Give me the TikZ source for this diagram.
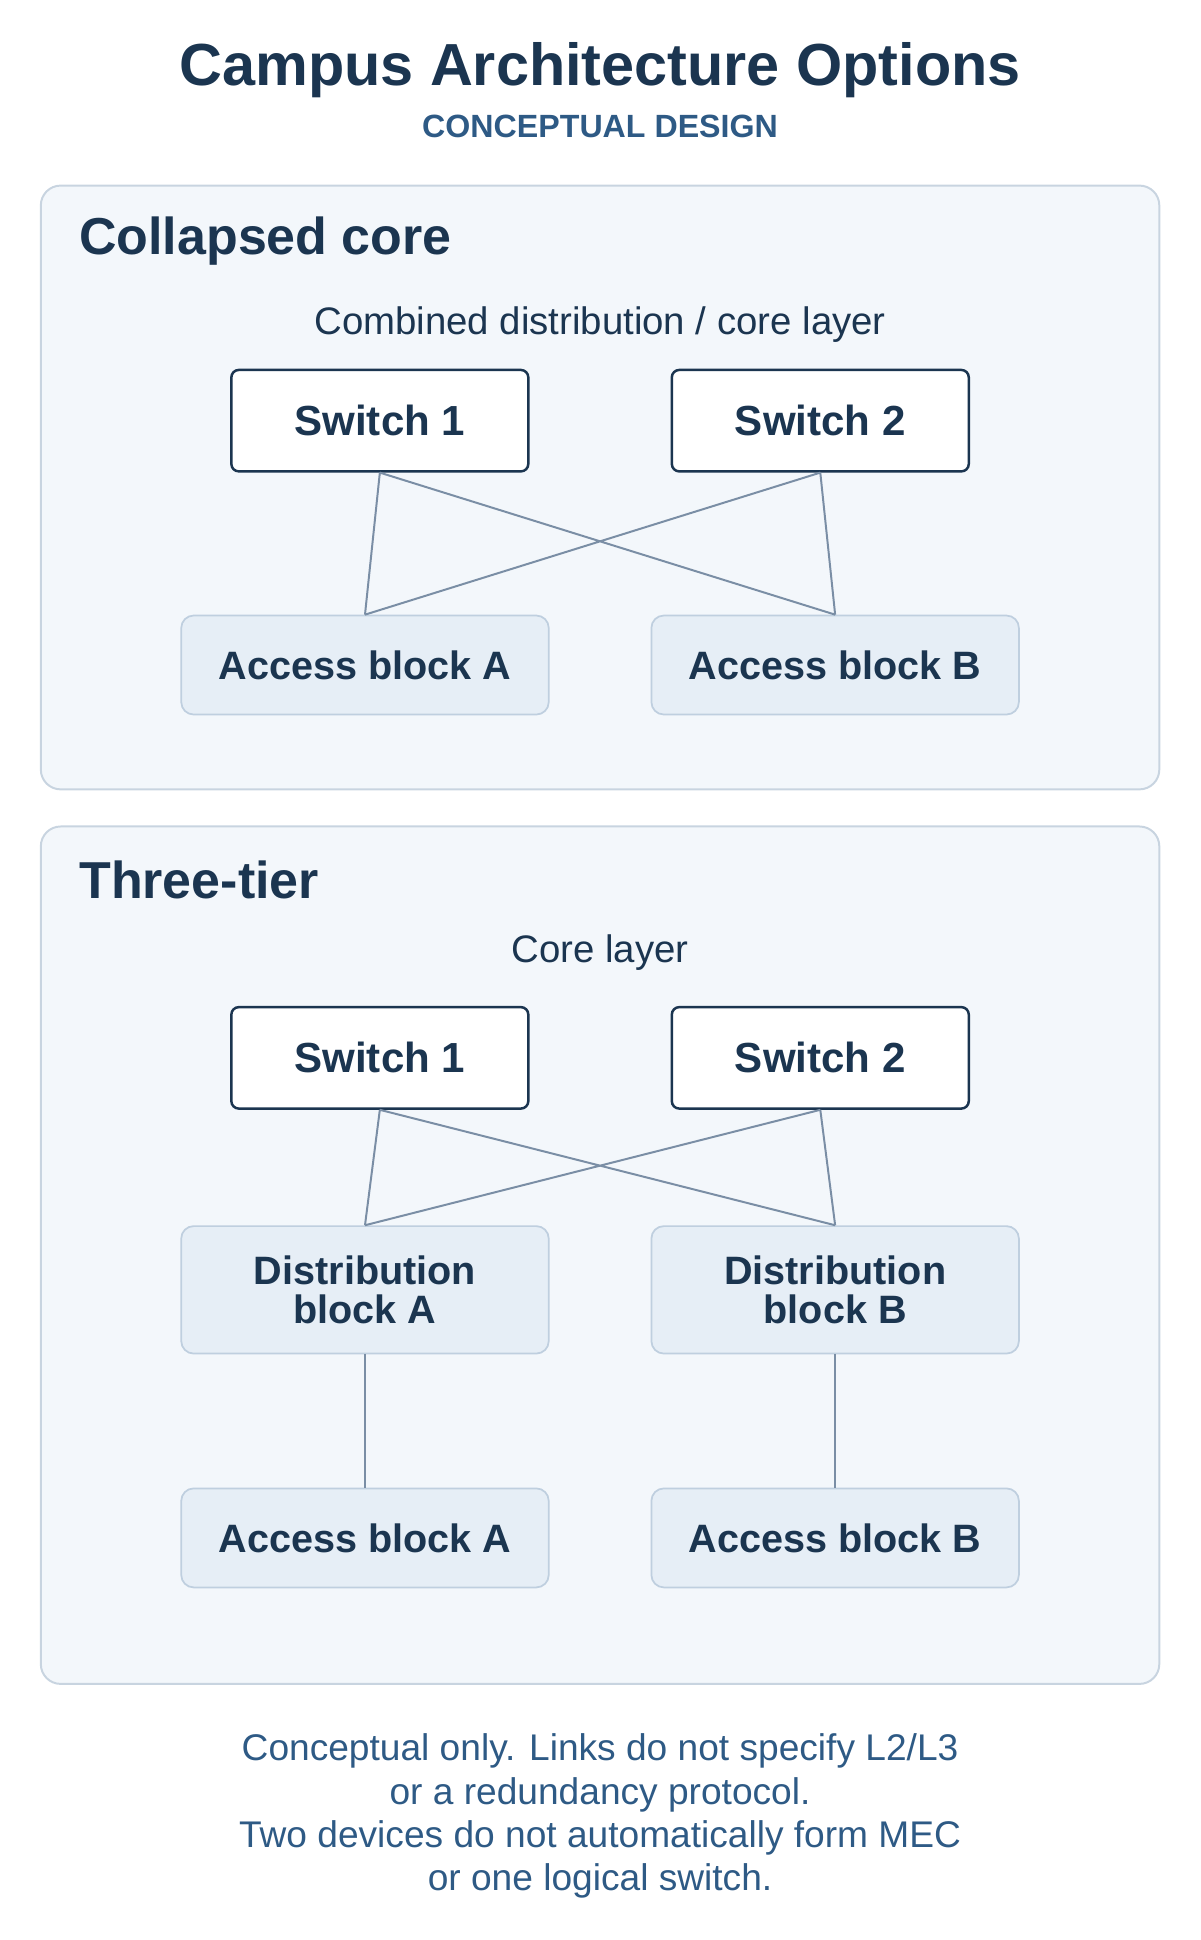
\documentclass[tikz,border=0pt]{standalone}
\usepackage{fontspec}
\setmainfont{Liberation Sans}
\definecolor{navy}{HTML}{1B3550}
\definecolor{subblue}{HTML}{2E5A85}
\definecolor{panelfill}{HTML}{F3F7FB}
\definecolor{panelline}{HTML}{C8D4E0}
\definecolor{blockfill}{HTML}{E6EEF6}
\definecolor{blockline}{HTML}{BFCFDF}
\definecolor{linkc}{HTML}{7A8EA5}
\begin{document}
\begin{tikzpicture}[x=0.5pt,y=-0.5pt,
  panel/.style={draw=panelline,fill=panelfill,rounded corners=8pt,line width=0.8pt},
  sw/.style={draw=navy,fill=white,rounded corners=3pt,line width=1pt,minimum width=120pt,minimum height=41pt,font=\fontsize{17}{19}\selectfont\bfseries,text=navy},
  blk/.style={draw=blockline,fill=blockfill,rounded corners=5pt,line width=0.7pt,minimum width=148.5pt,font=\fontsize{16}{17}\selectfont\bfseries,text=navy,align=center},
  link/.style={draw=linkc,line width=0.8pt},
  head/.style={font=\fontsize{21}{24}\selectfont\bfseries,text=navy,anchor=west},
  lbl/.style={font=\fontsize{15.5}{17}\selectfont,text=navy}]
\useasboundingbox (0,0) rectangle (970,1568);
\node[font=\fontsize{24}{28}\selectfont\bfseries,text=navy] (title) at (485,57) {Campus Architecture Options};
\node[font=\fontsize{13}{15}\selectfont\bfseries,text=subblue] (sub) at (485,102) {CONCEPTUAL DESIGN};
% panel 1
\draw[panel] (33,150) rectangle (937,638);
\node[head] (h1) at (57,195) {Collapsed core};
\node[lbl] (l1) at (485,262) {Combined distribution / core layer};
\node[sw] (s1) at (307,340) {Switch 1};
\node[sw] (s2) at (663,340) {Switch 2};
\node[blk,minimum height=40pt] (a1) at (295,537.5) {Access block A};
\node[blk,minimum height=40pt] (b1) at (675,537.5) {Access block B};
\draw[link] (s1.south) -- (a1.north) (s1.south) -- (b1.north) (s2.south) -- (a1.north) (s2.south) -- (b1.north);
% panel 2
\draw[panel] (33,668) rectangle (937,1361);
\node[head] (h2) at (57,711) {Three-tier};
\node[lbl] (l2) at (485,770) {Core layer};
\node[sw] (t1) at (307,855) {Switch 1};
\node[sw] (t2) at (663,855) {Switch 2};
\node[blk,minimum height=51.5pt] (d1) at (295,1042.5) {Distribution\\[-1pt]block A};
\node[blk,minimum height=51.5pt] (d2) at (675,1042.5) {Distribution\\[-1pt]block B};
\node[blk,minimum height=40pt] (a2) at (295,1243) {Access block A};
\node[blk,minimum height=40pt] (b2) at (675,1243) {Access block B};
\draw[link] (t1.south) -- (d1.north) (t1.south) -- (d2.north) (t2.south) -- (d1.north) (t2.south) -- (d2.north);
\draw[link] (d1.south) -- (a2.north) (d2.south) -- (b2.north);
\node[font=\fontsize{15}{17.5}\selectfont,text=subblue,align=center] (foot) at (485,1468) {Conceptual only. Links do not specify L2/L3\\or a redundancy protocol.\\Two devices do not automatically form MEC\\or one logical switch.};
\end{tikzpicture}
\end{document}
